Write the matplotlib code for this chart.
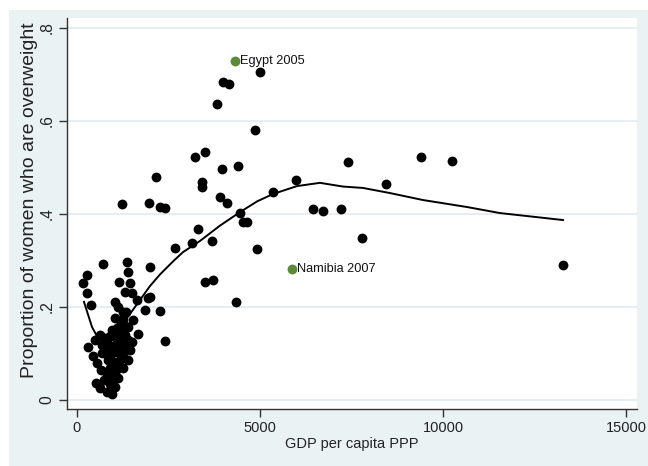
import numpy as np
import matplotlib
matplotlib.use("Agg")
import matplotlib.pyplot as plt
from matplotlib.patches import Rectangle

plt.rcParams['font.family'] = ['Liberation Sans', 'DejaVu Sans']

# gdp per capita (ppp) and share of women overweight
gdp = [5000, 3989, 4153, 3825, 4863, 3497, 3224, 2158, 3962, 4399,
       3415, 3415, 3907, 4098, 4453, 4535, 4645, 5355, 5983, 6450,
       6720, 7210, 7400, 7790, 8440, 9400, 10250, 13280, 4918, 3306,
       3142, 3688, 2677, 3497, 3716, 4344, 1230, 1967, 2268, 2404,
       2268, 2404, 1994, 1994,
       720, 1366, 1393, 273, 164, 273, 383, 300,
       1150, 1448, 1311, 1502, 1639, 1940, 1858, 1038, 1120, 1257,
       1038, 956, 1393, 1666, 1530, 1200, 1300,
       492, 628, 765, 902, 1038, 1175, 1311, 683, 847, 1011,
       1175, 1339, 765, 929, 1093, 1257, 847, 1011, 1175, 902,
       1066, 792, 956, 1120, 738, 902, 1038, 820, 956, 628,
       519, 437, 546, 656, 1448, 1503, 1393, 1257, 1175, 1311,
       1100, 950, 880, 1150, 1000, 870, 1230, 1400, 680, 1080,
       1250, 1350]
overweight = [0.705, 0.684, 0.680, 0.637, 0.581, 0.533, 0.523, 0.480, 0.497, 0.503,
              0.469, 0.458, 0.437, 0.424, 0.402, 0.383, 0.383, 0.447, 0.473, 0.410,
              0.406, 0.410, 0.512, 0.348, 0.465, 0.522, 0.515, 0.290, 0.325, 0.368,
              0.338, 0.342, 0.327, 0.254, 0.258, 0.211, 0.421, 0.424, 0.415, 0.413,
              0.191, 0.127, 0.286, 0.221,
              0.292, 0.296, 0.275, 0.269, 0.252, 0.230, 0.204, 0.114,
              0.254, 0.252, 0.232, 0.230, 0.215, 0.219, 0.194, 0.211, 0.200, 0.189,
              0.176, 0.150, 0.157, 0.142, 0.172, 0.165, 0.140,
              0.129, 0.140, 0.133, 0.138, 0.144, 0.140, 0.133, 0.118, 0.120, 0.116,
              0.120, 0.114, 0.103, 0.099, 0.103, 0.095, 0.086, 0.082, 0.086, 0.069,
              0.065, 0.060, 0.052, 0.047, 0.043, 0.034, 0.028, 0.017, 0.013, 0.026,
              0.037, 0.095, 0.080, 0.065, 0.108, 0.125, 0.086, 0.069, 0.153, 0.159,
              0.125, 0.110, 0.095, 0.075, 0.045, 0.050, 0.105, 0.130, 0.100, 0.155,
              0.175, 0.190]

# highlighted surveys
lab_names = ["Egypt 2005", "Namibia 2007"]
lab_gdp = [4317, 5874]
lab_ow = [0.729, 0.282]

# smoothed (lowess) curve
fit_x = [191, 410, 574, 765, 956, 1229, 1721, 1994, 2268, 2623, 2896, 3360,
         3907, 4453, 4918, 5355, 6011, 6639, 7267, 7813, 8551, 9453, 10655,
         11556, 13278]
fit_y = [0.211, 0.157, 0.133, 0.123, 0.129, 0.161, 0.215, 0.245, 0.270, 0.298,
         0.318, 0.342, 0.375, 0.404, 0.427, 0.443, 0.460, 0.467, 0.459, 0.456,
         0.445, 0.430, 0.415, 0.402, 0.387]

fig = plt.figure(figsize=(6.48, 4.66), dpi=100)
bg = Rectangle((9/648, 0), 1, 456/466, transform=fig.transFigure,
               facecolor='#eaf2f3', edgecolor='none', zorder=-10)
fig.add_artist(bg)
ax = fig.add_axes([67/648, 57/466, 570/648, 391/466])
ax.set_facecolor('white')

ax.scatter(gdp, overweight, s=50, color='black', zorder=3, linewidths=0)
ax.scatter(lab_gdp, lab_ow, s=50, color='#5a8a3a', zorder=3, linewidths=0)
for nm, gx, gy in zip(lab_names, lab_gdp, lab_ow):
    ax.annotate(nm, (gx, gy), xytext=(3.5, 0), textcoords='offset points',
                ha='left', va='center', fontsize=9.2, color='#111111', zorder=4)
ax.plot(fit_x, fit_y, color='black', lw=1.4, zorder=2)

ax.set_xlim(-273, 15300)
ax.set_ylim(-0.0194, 0.8215)
ax.set_xticks([0, 5000, 10000, 15000])
ax.set_yticks([0, 0.2, 0.4, 0.6, 0.8])
ax.set_yticklabels(["0", ".2", ".4", ".6", ".8"], rotation=90, va='center')
ax.yaxis.grid(True, color='#e3edf1', lw=1.3)
ax.set_axisbelow(True)
for s in ['top', 'right']:
    ax.spines[s].set_visible(False)
for s in ['left', 'bottom']:
    ax.spines[s].set_color('#333333')
    ax.spines[s].set_linewidth(1.0)
ax.tick_params(direction='out', length=6, width=1, colors='#333333',
               labelcolor='#222222', pad=3)
ax.tick_params(axis='x', labelsize=10.5)
ax.tick_params(axis='y', labelsize=11.2)
ax.set_xlabel("GDP per capita PPP", fontsize=10.5, color='#222222', labelpad=1)
ax.set_ylabel("Proportion of women who are overweight", fontsize=14,
              color='#222222')
ax.yaxis.set_label_coords(-0.051, 0.535)

fig.savefig("out.png", dpi=100)
